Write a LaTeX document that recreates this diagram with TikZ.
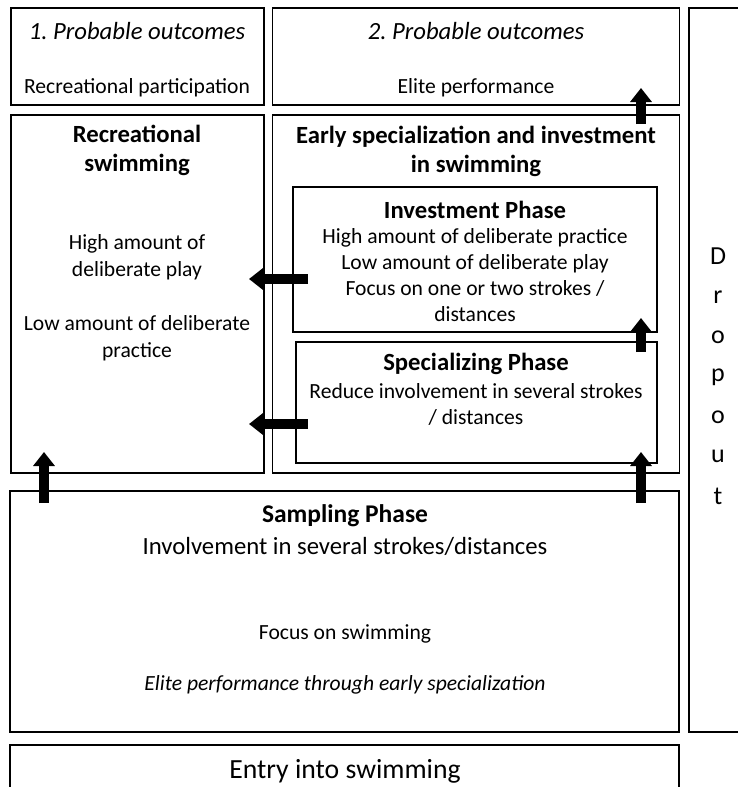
\documentclass[tikz,border=0pt]{standalone}
\usepackage{fontspec}
\setmainfont{Carlito}
\usetikzlibrary{arrows.meta}
\frenchspacing
\tikzset{
  box/.style={draw, line width=1.2pt, inner sep=0pt, outer sep=0pt},
  txt/.style={inner sep=0pt, align=center, font=\fontsize{21.6}{26}\selectfont},
  ttl/.style={inner sep=0pt, align=center, font=\fontsize{24.7}{29}\selectfont\bfseries},
  blk/.style={line width=10pt, -{Triangle[width=21pt,length=14pt]}},
}
\begin{document}
\begin{tikzpicture}[x=1pt,y=-1pt]
\useasboundingbox (0,0) rectangle (737,787);
% boxes
\node[box, minimum width=253pt, minimum height=97pt] (pa) at (137.5,56.5) {};
\node[box, minimum width=407pt, minimum height=97pt] (pb) at (476,56.5) {};
\node[box, minimum width=70pt, minimum height=724pt] (drop) at (724,370) {};
\node[box, minimum width=253pt, minimum height=358pt] (rec) at (137.5,294) {};
\node[box, minimum width=407pt, minimum height=358pt] (early) at (476,294) {};
\node[box, minimum width=364pt, minimum height=145pt] (inv) at (475,259.5) {};
\node[box, minimum width=361pt, minimum height=121pt] (spec) at (476.5,402.5) {};
\node[box, minimum width=669pt, minimum height=241pt] (samp) at (344.5,611.5) {};
\node[box, minimum width=669pt, minimum height=60pt] (entry) at (344.5,775) {};
% texts
\node[txt, font=\fontsize{24.7}{29}\selectfont\itshape] (t1) at (137,31) {1. Probable outcomes};
\node[txt] (t1b) at (137,88) {Recreational participation};
\node[txt, font=\fontsize{24.7}{29}\selectfont\itshape] (t2) at (476,31) {2. Probable outcomes};
\node[txt] (t2b) at (476,88) {Elite performance};
\node[ttl] (rt) at (137,150) {Recreational\\swimming};
\node[txt, font=\fontsize{21.6}{27}\selectfont] (rt2) at (137,257) {High amount of\\deliberate play};
\node[txt, font=\fontsize{21.6}{27}\selectfont] (rt3) at (137,338) {Low amount of deliberate\\practice};
\node[ttl] (et) at (476,151) {Early specialization and investment\\in swimming};
\node[ttl] (it) at (475,210) {Investment Phase};
\node[txt] (it2) at (475,275) {High amount of deliberate practice\\Low amount of deliberate play\\Focus on one or two strokes /\\distances};
\node[ttl] (st) at (476,364) {Specializing Phase};
\node[txt] (st2) at (476,404) {Reduce involvement in several strokes\\/ distances};
\node[ttl, font=\fontsize{25.5}{29}\selectfont\bfseries] (sa) at (345,516) {Sampling Phase};
\node[txt, font=\fontsize{24.7}{29}\selectfont] (sa2) at (345,546) {Involvement in several strokes/distances};
\node[txt] (sa3) at (345,634) {Focus on swimming};
\node[txt, font=\fontsize{21.6}{26}\selectfont\itshape] (sa4) at (345,685) {Elite performance through early specialization};
\node[txt, font=\fontsize{27.7}{32}\selectfont] (en) at (345,771) {Entry into swimming};
\foreach \l/\y in {D/256,r/297,o/337,p/377,o/417,u/456,t/496}
  \node[txt, font=\fontsize{26}{29}\selectfont] at (718,\y) {\l};
% arrow coordinates
\coordinate (a1s) at (641,124); \coordinate (a1e) at (641,88);
\coordinate (a2s) at (641,352); \coordinate (a2e) at (641,318);
\coordinate (a3s) at (641,503); \coordinate (a3e) at (641,452);
\coordinate (a4s) at (44,503);  \coordinate (a4e) at (44,452);
\coordinate (a5s) at (308,279); \coordinate (a5e) at (249,279);
\coordinate (a6s) at (308,424); \coordinate (a6e) at (249,424);
\foreach \a in {1,...,6} \draw[blk] (a\a s) -- (a\a e);
\end{tikzpicture}
\end{document}
